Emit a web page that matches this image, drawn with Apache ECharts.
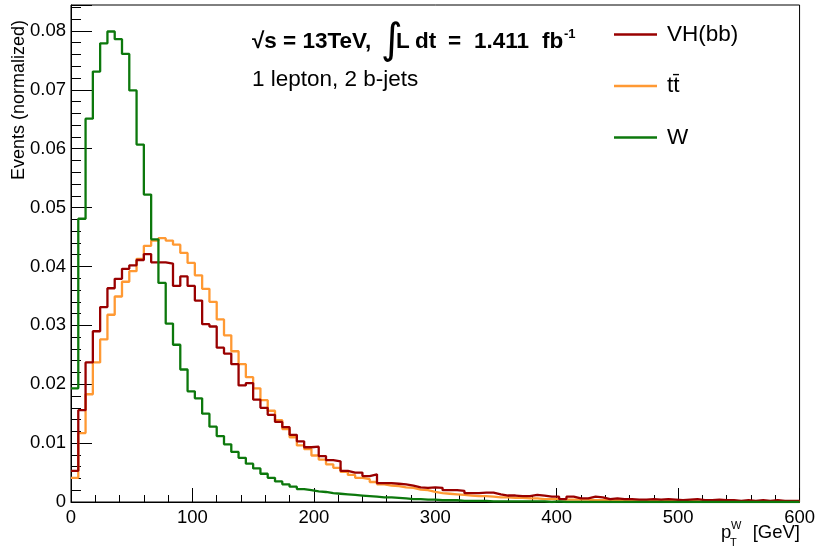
<!DOCTYPE html>
<html><head><meta charset="utf-8">
<script src="https://cdn.jsdelivr.net/npm/echarts@6/dist/echarts.min.js"></script>
<style>html,body{margin:0;padding:0;background:#fff}#c{width:818px;height:551px}</style>
</head><body><div id="c"></div>
<script>
// Binning: 100 bins of 6 GeV from 0 to 600
const binWidth = 6;
const seriesNames = ['VH(bb)', 'tt\u0304', 'W'];
const yTickValues = [0, 0.01, 0.02, 0.03, 0.04, 0.05, 0.06, 0.07, 0.08];
const xTickValues = [0, 100, 200, 300, 400, 500, 600];

const vhValues = [
 0.0053,0.0156,0.0237,0.0290,0.0331,0.0363,0.0379,0.0396,0.0402,0.0411,
 0.0421,0.0407,0.0407,0.0405,0.0367,0.0383,0.0367,0.0342,0.0302,0.0298,
 0.0262,0.0252,0.0234,0.0198,0.0202,0.0174,0.0160,0.0148,0.0136,0.0127,
 0.0114,0.0103,0.0093,0.0094,0.0078,0.0071,0.0069,0.0053,0.0050,0.0050,
 0.0044,0.0047,0.0032,0.0032,0.0031,0.0030,0.0028,0.0025,0.0024,0.0025,
 0.0024,0.0020,0.0020,0.0019,0.0015,0.0015,0.0016,0.0016,0.0013,0.0011,
 0.0011,0.0010,0.0010,0.0012,0.0011,0.0009,0.0009,0.0005,0.0009,0.0006,
 0.0006,0.0009,0.0008,0.0005,0.0006,0.0005,0.0005,0.0004,0.0004,0.0005,
 0.0004,0.0005,0.0004,0.0003,0.0004,0.0005,0.0003,0.0003,0.0004,0.0003,
 0.0003,0.0002,0.0003,0.0002,0.0003,0.0002,0.0003,0.0002,0.0002,0.0002
];
const ttValues = [
 0.0041,0.0117,0.0183,0.0237,0.0276,0.0318,0.0349,0.0374,0.0392,0.0413,
 0.0435,0.0444,0.0448,0.0444,0.0437,0.0423,0.0406,0.0385,0.0362,0.0340,
 0.0310,0.0283,0.0256,0.0234,0.0212,0.0193,0.0173,0.0155,0.0139,0.0124,
 0.0110,0.0096,0.0090,0.0079,0.0072,0.0064,0.0058,0.0051,0.0046,0.0041,
 0.0039,0.0034,0.0030,0.0028,0.0027,0.0025,0.0024,0.0021,0.0020,0.0017,
 0.0015,0.0014,0.0013,0.0012,0.0011,0.0010,0.0010,0.0009,0.0008,0.0008,
 0.0007,0.0007,0.0006,0.0006,0.0005,0.0005,0.0005,0.0004,0.0004,0.0004,
 0.0004,0.0003,0.0003,0.0003,0.0003,0.0003,0.0002,0.0002,0.0002,0.0002,
 0.0002,0.0002,0.0002,0.0001,0.0002,0.0001,0.0001,0.0001,0.0001,0.0001,
 0.0001,0.0001,0.0001,0.0001,0.0001,0.0001,0.0001,0.0001,0.0001,0.0001
];
const wValues = [
 0.0193,0.0481,0.0651,0.0731,0.0779,0.0799,0.0786,0.0761,0.0699,0.0607,
 0.0522,0.0446,0.0372,0.0303,0.0267,0.0225,0.0188,0.0176,0.0150,0.0128,
 0.0112,0.0098,0.0085,0.0075,0.0065,0.0057,0.0048,0.0041,0.0035,0.0030,
 0.0026,0.0022,0.0020,0.0018,0.0017,0.0015,0.0014,0.0013,0.0012,0.0011,
 0.0010,0.0009,0.0008,0.0008,0.0007,0.0006,0.0005,0.0005,0.0004,0.0004,
 0.0003,0.0003,0.0003,0.0002,0.0002,0.0002,0.0002,0.0001,0.0001,0.0001,
 0.0001,0.0001,0.0001,0.0001,0.0001,0.0000,0.0001,0.0000,0.0000,0.0000,
 0.0000,0.0000,0.0000,0.0000,0.0000,0.0000,0.0000,0.0000,0.0000,0.0000,
 0.0000,0.0000,0.0000,0.0000,0.0000,0.0000,0.0000,0.0000,0.0000,0.0000,
 0.0000,0.0000,0.0000,0.0000,0.0000,0.0000,0.0000,0.0000,0.0000,0.0000
];

function histPoints(vals) {
  const d = vals.map((v, i) => [i * binWidth, v]);
  d.push([vals.length * binWidth, vals[vals.length - 1]]);
  return d;
}

const FONT = '"Liberation Sans", Arial, Helvetica, sans-serif';
const YMAX = 0.0844;
const chart = echarts.init(document.getElementById('c'), null, {renderer: 'canvas'});

function histSeries(name, vals, color, z) {
  return {
    name: name, type: 'line', step: 'end', data: histPoints(vals),
    symbol: 'none', showSymbol: false, z: z,
    lineStyle: {color: color, width: 2.3}, itemStyle: {color: color},
    emphasis: {disabled: true}, silent: true, clip: true
  };
}

function txt(x, y, text, size, extra) {
  return Object.assign({type: 'text', x: x, y: y, silent: true,
    style: Object.assign({text: text, fontSize: size, fontFamily: FONT, fill: '#000', align: 'left', verticalAlign: 'middle'}, extra || {})});
}
const B = {fontWeight: 'bold'};

const option = {
  animation: false,
  backgroundColor: '#fff',
  grid: {left: 71, right: 18, top: 5, bottom: 49, show: true, borderColor: '#000', borderWidth: 1, backgroundColor: 'transparent'},
  xAxis: [{
    type: 'value', min: 0, max: 600, interval: 100,
    axisLine: {show: true, onZero: false, lineStyle: {color: '#000', width: 1}},
    axisTick: {show: true, inside: true, length: 14, lineStyle: {color: '#000', width: 1}},
    minorTick: {show: true, splitNumber: 5, length: 7, lineStyle: {color: '#000', width: 1}},
    splitLine: {show: false},
    axisLabel: {color: '#000', fontSize: 18.5, fontFamily: FONT, margin: 6,
      formatter: v => xTickValues.includes(v) ? String(v) : ''}
  }],
  yAxis: [{
    type: 'value', min: 0, max: YMAX, interval: 0.01,
    axisLine: {show: true, onZero: false, lineStyle: {color: '#000', width: 1}},
    axisTick: {show: true, inside: true, length: 21, lineStyle: {color: '#000', width: 1}},
    splitLine: {show: false},
    axisLabel: {color: '#000', fontSize: 18.5, fontFamily: FONT, margin: 5, showMaxLabel: true,
      formatter: v => {
        const t = yTickValues.find(k => Math.abs(k - v) < 1e-9);
        if (t === undefined) return '';
        return t === 0 ? '0' : t.toFixed(2);
      }}
  }, {
    type: 'value', min: 0, max: YMAX, interval: 0.002, position: 'left',
    axisLine: {show: false},
    axisTick: {show: true, inside: true, length: 10, lineStyle: {color: '#000', width: 1}},
    splitLine: {show: false},
    axisLabel: {show: false}
  }],
  legend: {
    orient: 'vertical', left: 609, top: 18, itemWidth: 43, itemHeight: 2.6, itemGap: 28.5,
    icon: 'rect',
    data: seriesNames,
    textStyle: {fontSize: 22.5, lineHeight: 22.5, fontFamily: FONT, color: '#000', padding: [0, 0, 0, 5]},
    selectedMode: false
  },
  series: [
    histSeries(seriesNames[1], ttValues, '#ff9933', 2),
    histSeries(seriesNames[0], vhValues, '#990000', 3),
    histSeries(seriesNames[2], wValues, '#0c780c', 4)
  ],
  graphic: [
    {type: 'text', x: 19, y: 20, rotation: Math.PI / 2, silent: true,
     style: {text: 'Events (normalized)', fontSize: 18, fontFamily: FONT, fill: '#000', align: 'right', verticalAlign: 'middle'}},
    // x-axis title p_T^W [GeV]
    txt(721, 532.6, 'p', 18.5),
    txt(731, 526, 'W', 11),
    txt(730, 543, 'T', 11),
    txt(800, 532.6, '[GeV]', 18.5, {align: 'right'}),
    // header line 1
    txt(252, 42, '\u221As = 13TeV,', 22.5, B),
    txt(381, 42, '\u222B', 42, {fontFamily: '"DejaVu Sans", sans-serif'}),
    txt(396, 42, 'L', 22.5, B),
    txt(415, 42, 'dt', 22.5, B),
    txt(448, 42, '=', 22.5, B),
    txt(474, 42, '1.411', 22.5, B),
    txt(542, 42, 'fb', 22.5, B),
    txt(564, 34, '-1', 13, B),
    // header line 2
    txt(252, 80, '1 lepton, 2 b-jets', 22.5)
  ]
};
chart.setOption(option);
</script>
</body></html>
